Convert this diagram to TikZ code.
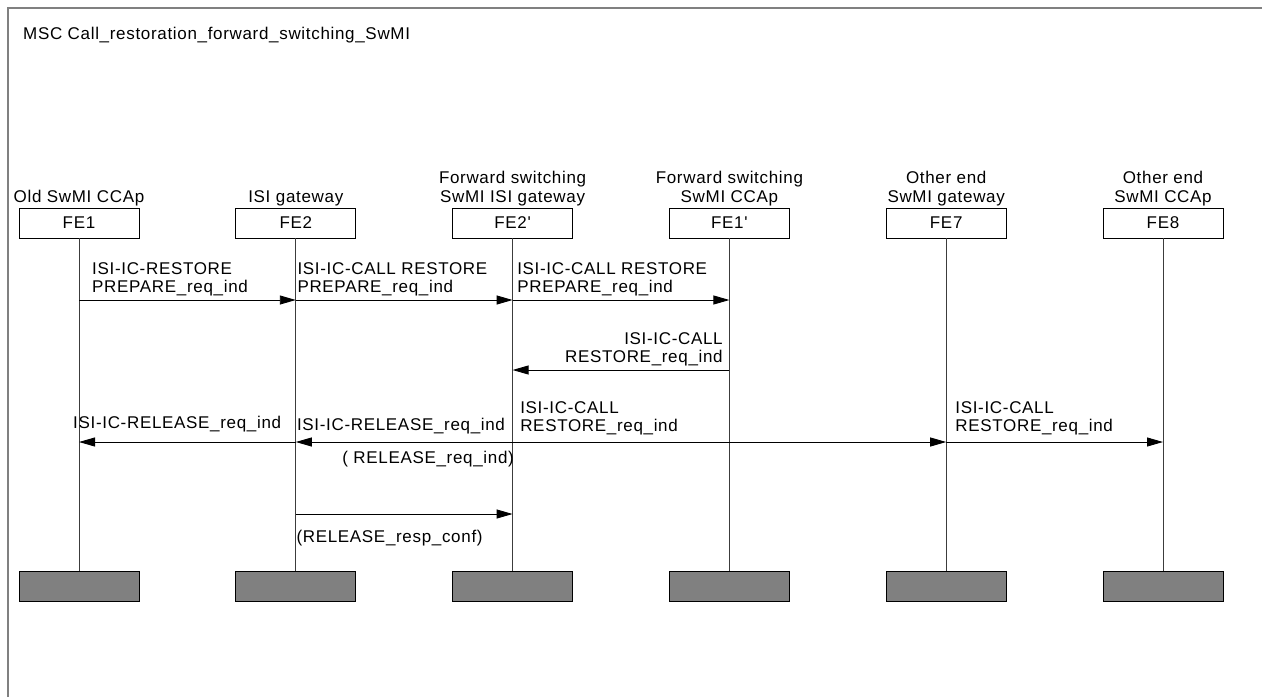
\documentclass[tikz,border=0pt]{standalone}
\usepackage{fontspec}
\setmainfont{Liberation Sans}[LetterSpace=4, Ligatures=TeXOff]
\usetikzlibrary{arrows.meta,positioning}
\definecolor{framegray}{RGB}{128,128,128}
\definecolor{endgray}{RGB}{128,128,128}
\definecolor{lifegray}{RGB}{60,60,60}
\begin{document}
\begin{tikzpicture}[
        x=1pt, y=-1pt,
        font=\fontsize{17}{18.5}\selectfont,
        fe/.style={draw, line width=0.9pt, minimum width=120pt, minimum height=30pt, inner sep=0pt},
        feend/.style={draw, line width=1pt, fill=endgray, minimum width=120pt, minimum height=30pt, inner sep=0pt},
        hd/.style={align=center, inner sep=0pt},
        lbl/.style={align=left, inner sep=0pt},
        life/.style={draw=lifegray, line width=0.9pt},
        msg/.style={draw, line width=0.9pt, -{Triangle[length=16pt, width=9pt]}}
    ]
    \useasboundingbox (0,0) rectangle (1262,697);
    \draw[framegray, line width=2pt] (8,697) -- (8,8) -- (1262,8);
    \node[anchor=base west, inner sep=0pt] (title) at (23,39) {MSC Call\_restoration\_forward\_switching\_SwMI};

    % instance heads
    \node[fe] (fe1) at (79,223) {FE1};
    \node[fe] (fe2) at (295.8,223) {FE2};
    \node[fe] (fe2p) at (512.6,223) {FE2'};
    \node[fe] (fe1p) at (729.4,223) {FE1'};
    \node[fe] (fe7) at (946.2,223) {FE7};
    \node[fe] (fe8) at (1163,223) {FE8};

    \node[hd, above=1.4pt of fe1] {Old SwMI CCAp};
    \node[hd, above=1.4pt of fe2] {ISI gateway};
    \node[hd, above=1.4pt of fe2p] {Forward switching\\SwMI ISI gateway};
    \node[hd, above=1.4pt of fe1p] {Forward switching\\SwMI CCAp};
    \node[hd, above=1.4pt of fe7] {Other end\\SwMI gateway};
    \node[hd, above=1.4pt of fe8] {Other end\\SwMI CCAp};

    % instance ends
    \node[feend] (e1) at (79,586.5) {};
    \node[feend] (e2) at (295.8,586.5) {};
    \node[feend] (e2p) at (512.6,586.5) {};
    \node[feend] (e1p) at (729.4,586.5) {};
    \node[feend] (e7) at (946.2,586.5) {};
    \node[feend] (e8) at (1163,586.5) {};

    \draw[life] (fe1) -- (e1);
    \draw[life] (fe2) -- (e2);
    \draw[life] (fe2p) -- (e2p);
    \draw[life] (fe1p) -- (e1p);
    \draw[life] (fe7) -- (e7);
    \draw[life] (fe8) -- (e8);

    % message levels
    \coordinate (y1) at (0,300);
    \coordinate (y2) at (0,370);
    \coordinate (y3) at (0,442);
    \coordinate (y4) at (0,514);

    \draw[msg] (fe1 |- y1) -- (fe2 |- y1);
    \draw[msg] (fe2 |- y1) -- (fe2p |- y1);
    \draw[msg] (fe2p |- y1) -- (fe1p |- y1);
    \draw[msg] (fe1p |- y2) -- (fe2p |- y2);
    \draw[msg] (fe2p |- y3) -- (fe2 |- y3);
    \draw[msg] (fe2 |- y3) -- (fe1 |- y3);
    \draw[msg] (fe2p |- y3) -- (fe7 |- y3);
    \draw[msg] (fe7 |- y3) -- (fe8 |- y3);
    \draw[msg] (fe2 |- y4) -- (fe2p |- y4);

    \node[lbl, above right, xshift=13pt, yshift=3.4pt] at (fe1 |- y1) {ISI-IC-RESTORE\\PREPARE\_req\_ind};
    \node[lbl, above right, xshift=1.5pt, yshift=3.4pt] at (fe2 |- y1) {ISI-IC-CALL RESTORE\\PREPARE\_req\_ind};
    \node[lbl, above right, xshift=4.5pt, yshift=3.4pt] at (fe2p |- y1) {ISI-IC-CALL RESTORE\\PREPARE\_req\_ind};
    \node[lbl, align=right, above left, xshift=-6.5pt, yshift=3.4pt] at (fe1p |- y2) {ISI-IC-CALL\\RESTORE\_req\_ind};
    \node[lbl, above right, xshift=-6pt, yshift=10pt] at (fe1 |- y3) {ISI-IC-RELEASE\_req\_ind};
    \node[lbl, above right, xshift=1pt, yshift=7.4pt] at (fe2 |- y3) {ISI-IC-RELEASE\_req\_ind};
    \node[lbl, below left, xshift=1.5pt, yshift=-8.6pt] at (fe2p |- y3) {( RELEASE\_req\_ind)};
    \node[lbl, above right, xshift=7.5pt, yshift=6.7pt] at (fe2p |- y3) {ISI-IC-CALL\\RESTORE\_req\_ind};
    \node[lbl, above right, xshift=9pt, yshift=6.7pt] at (fe7 |- y3) {ISI-IC-CALL\\RESTORE\_req\_ind};
    \node[lbl, below right, xshift=0.5pt, yshift=-15.6pt] at (fe2 |- y4) {(RELEASE\_resp\_conf)};
\end{tikzpicture}
\end{document}
